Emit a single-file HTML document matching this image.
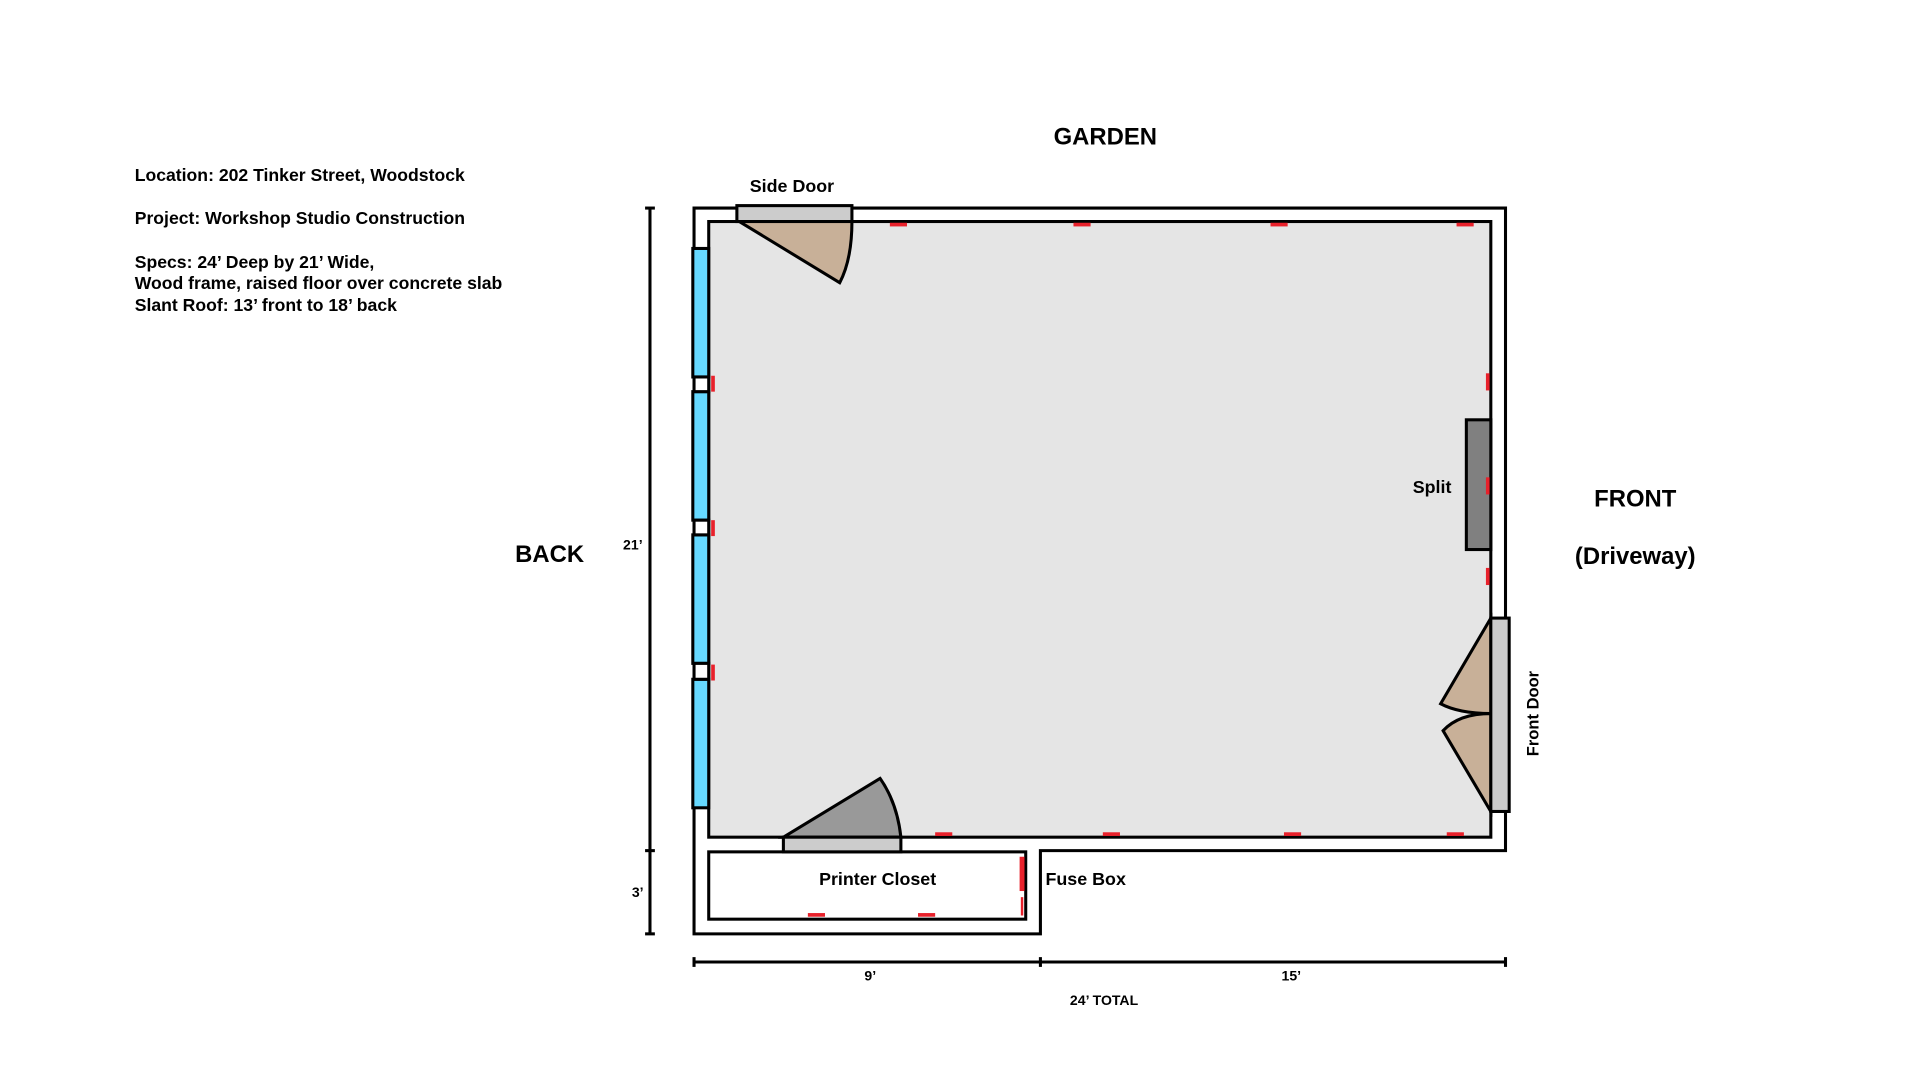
<!DOCTYPE html>
<html><head><meta charset="utf-8"><style>
html,body{margin:0;padding:0;background:#fff;width:1920px;height:1080px;overflow:hidden}
svg{display:block}
text{font-family:"Liberation Sans",Arial,sans-serif;font-weight:bold;fill:#000}
</style></head><body>
<svg width="1920" height="1080" viewBox="0 0 1568.6 882.4" xmlns="http://www.w3.org/2000/svg">
<rect width="1568.6" height="882.4" fill="#fff"/>
<path d="M567,170 H1230 V695 H850 V763 H567 Z" fill="#fff" stroke="#000" stroke-width="2.5"/>
<rect x="579" y="181" width="639" height="503" fill="#e5e5e5" stroke="#000" stroke-width="2.5"/>
<rect x="579" y="696" width="259" height="55" fill="#fff" stroke="#000" stroke-width="2.5"/>
<g fill="#66d9ff" stroke="#000" stroke-width="2.5">
<rect x="566" y="203" width="13" height="105"/>
<rect x="566" y="320" width="13" height="105"/>
<rect x="566" y="437" width="13" height="105"/>
<rect x="566" y="555" width="13" height="105"/>
</g>
<g fill="#fff" stroke="#000" stroke-width="2.5">
<rect x="567" y="308" width="12" height="12"/>
<rect x="567" y="425" width="12" height="12"/>
<rect x="567" y="542" width="12" height="13"/>
</g>
<path d="M604,181 L686,231 Q696,212 696,181 Z" fill="#c8b098" stroke="#000" stroke-width="2.5"/>
<rect x="602" y="168" width="94" height="13" fill="#ccc" stroke="#000" stroke-width="2.5"/>
<path d="M640,684 L719,636 Q733,656 736,684 Z" fill="#999" stroke="#000" stroke-width="2.5"/>
<rect x="640" y="684" width="96" height="12" fill="#ccc" stroke="#000" stroke-width="2.5"/>
<rect x="1198" y="343" width="20" height="106" fill="#808080" stroke="#000" stroke-width="2.5"/>
<path d="M1218,505 L1177,575 Q1192,583 1218,583 Z" fill="#c8b098" stroke="#000" stroke-width="2.5"/>
<path d="M1218,583 Q1192,583 1179,597 L1218,663 Z" fill="#c8b098" stroke="#000" stroke-width="2.5"/>
<rect x="1218" y="505" width="15" height="158" fill="#ccc" stroke="#000" stroke-width="2.5"/>
<g fill="#e8212b">
<rect x="727" y="182" width="14" height="3"/><rect x="877" y="182" width="14" height="3"/><rect x="1038" y="182" width="14" height="3"/><rect x="1190" y="182" width="14" height="3"/>
<rect x="764" y="680" width="14" height="3"/><rect x="901" y="680" width="14" height="3"/><rect x="1049" y="680" width="14" height="3"/><rect x="1182" y="680" width="14" height="3"/>
<rect x="581" y="307" width="3" height="13"/><rect x="581" y="425" width="3" height="13"/><rect x="581" y="543" width="3" height="13"/>
<rect x="1214" y="305" width="3" height="14"/><rect x="1214" y="390" width="3" height="14"/><rect x="1214" y="464" width="3" height="14"/>
<rect x="833" y="700" width="4" height="28"/><rect x="834" y="733" width="2" height="15"/>
<rect x="660" y="746" width="14" height="3"/><rect x="750" y="746" width="14" height="3"/>
</g>
<g stroke="#000" stroke-width="2.5">
<line x1="531" y1="170" x2="531" y2="763"/>
<line x1="527" y1="170" x2="535" y2="170"/><line x1="527" y1="695" x2="535" y2="695"/><line x1="527" y1="763" x2="535" y2="763"/>
<line x1="567" y1="786" x2="1230" y2="786"/>
<line x1="567" y1="782" x2="567" y2="790"/><line x1="850" y1="782" x2="850" y2="790"/><line x1="1230" y1="782" x2="1230" y2="790"/>
</g>
<g font-size="11.5" text-anchor="middle">
<text x="517" y="449">21’</text><text x="521" y="733">3’</text>
<text x="711" y="801">9’</text><text x="1055" y="801">15’</text><text x="902" y="821">24’ TOTAL</text>
</g>
<g font-size="19.5" text-anchor="middle">
<text x="903" y="118">GARDEN</text><text x="449" y="459">BACK</text>
<text x="1336" y="414">FRONT</text><text x="1336" y="461">(Driveway)</text>
</g>
<g font-size="14.6" text-anchor="middle">
<text x="647" y="157">Side Door</text><text x="1170" y="403">Split</text>
<text x="717" y="723">Printer Closet</text>
<text x="887" y="723">Fuse Box</text>
<text transform="translate(1257,583) rotate(-90)" font-size="13.5">Front Door</text>
</g>
<g font-size="14.4">
<text x="110" y="148">Location: 202 Tinker Street, Woodstock</text>
<text x="110" y="183">Project: Workshop Studio Construction</text>
<text x="110" y="219">Specs: 24’ Deep by 21’ Wide,</text>
<text x="110" y="236">Wood frame, raised floor over concrete slab</text>
<text x="110" y="254">Slant Roof: 13’ front to 18’ back</text>
</g>
</svg>
</body></html>
